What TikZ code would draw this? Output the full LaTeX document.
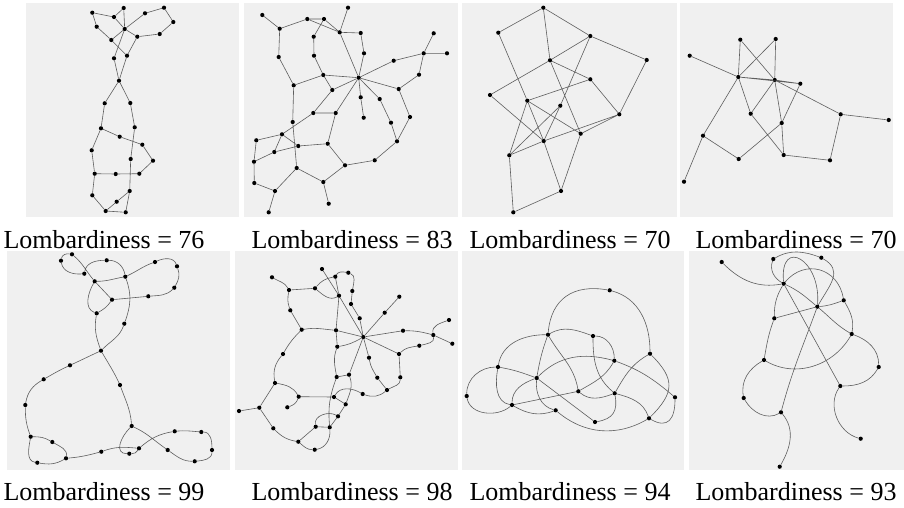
\documentclass[tikz,border=0pt]{standalone}
\usepackage{fontspec}
\setmainfont{Liberation Serif}
\definecolor{panelgray}{HTML}{F0F0F0}
\definecolor{edgegray}{HTML}{5E5E5E}
\tikzset{
  panel/.style={fill=panelgray},
  vtx/.style={circle,fill=black,inner sep=0pt,minimum size=4.2pt},
  edge/.style={draw=edgegray,line width=0.6pt},
  score/.style={font=\fontsize{26}{30}\selectfont,anchor=base}
}
\begin{document}
\begin{tikzpicture}[x=1pt,y=-1pt]
\path[use as bounding box] (0,0) rectangle (904,507);
\fill[panel] (26,3) rectangle (239,217); \fill[panel] (244,3) rectangle (458,217);
\fill[panel] (462,3) rectangle (677,217); \fill[panel] (680,3) rectangle (893,217);
\fill[panel] (7,251) rectangle (230,470); \fill[panel] (235,251) rectangle (458,470);
\fill[panel] (462,251) rectangle (684,470); \fill[panel] (689,251) rectangle (904,470);
\node[score] (s1) at (104,248) {Lombardiness = 76}; \node[score] (s2) at (352,248) {Lombardiness = 83};
\node[score] (s3) at (570,248) {Lombardiness = 70}; \node[score] (s4) at (796,248) {Lombardiness = 70};
\node[score] (s5) at (104,500) {Lombardiness = 99}; \node[score] (s6) at (352,500) {Lombardiness = 98};
\node[score] (s7) at (570,500) {Lombardiness = 94}; \node[score] (s8) at (796,500) {Lombardiness = 93};
\node[vtx] (a1) at (92.3,12.7) {}; \node[vtx] (a2) at (123.7,8) {}; \node[vtx] (a3) at (114,17) {}; \node[vtx] (a4) at (145,13.3) {};
\node[vtx] (a5) at (164,7.7) {}; \node[vtx] (a6) at (173.3,22) {}; \node[vtx] (a7) at (96.7,26.7) {}; \node[vtx] (a8) at (124.7,29) {};
\node[vtx] (a9) at (137.3,36.7) {}; \node[vtx] (a10) at (159.7,34) {}; \node[vtx] (a11) at (111.3,40) {}; \node[vtx] (a12) at (127,55.7) {};
\node[vtx] (a13) at (114,58.3) {}; \node[vtx] (a14) at (119,80.7) {}; \node[vtx] (a15) at (104.7,103.3) {}; \node[vtx] (a16) at (130.3,103) {};
\node[vtx] (a17) at (101,128.3) {}; \node[vtx] (a18) at (134.7,127.3) {}; \node[vtx] (a19) at (119.7,136.7) {}; \node[vtx] (a20) at (142.3,144.7) {};
\node[vtx] (a21) at (91.7,150.3) {}; \node[vtx] (a22) at (130.7,159) {}; \node[vtx] (a23) at (153,160.7) {}; \node[vtx] (a24) at (94.7,173.7) {};
\node[vtx] (a25) at (115.7,174) {}; \node[vtx] (a26) at (139.3,173.7) {}; \node[vtx] (a27) at (129.7,191) {}; \node[vtx] (a28) at (92.3,195.3) {};
\node[vtx] (a29) at (116.7,201.7) {}; \node[vtx] (a30) at (105.7,211) {}; \node[vtx] (a31) at (125.7,212.3) {};
\draw[edge] (a1)--(a3) (a3)--(a2) (a2)--(a8) (a3)--(a8) (a1)--(a7) (a7)--(a11) (a11)--(a8) (a11)--(a12) (a8)--(a13) (a8)--(a9)
  (a9)--(a12) (a9)--(a10) (a10)--(a6) (a6)--(a5) (a5)--(a4) (a4)--(a8) (a13)--(a14) (a12)--(a14) (a14)--(a15) (a14)--(a16)
  (a15)--(a17) (a16)--(a18) (a17)--(a19) (a19)--(a20) (a17)--(a21) (a18)--(a22) (a20)--(a23) (a23)--(a26) (a26)--(a25) (a25)--(a24)
  (a24)--(a21) (a22)--(a27) (a27)--(a31) (a27)--(a29) (a29)--(a30) (a24)--(a28) (a28)--(a30) (a30)--(a31);
\node[vtx] (b1) at (262.3,15) {}; \node[vtx] (b2) at (348,7.7) {}; \node[vtx] (b3) at (279.7,28.7) {}; \node[vtx] (b4) at (307.3,19) {};
\node[vtx] (b5) at (324,19) {}; \node[vtx] (b6) at (339.7,32.3) {}; \node[vtx] (b7) at (360.7,33) {}; \node[vtx] (b8) at (313.7,36.7) {};
\node[vtx] (b9) at (314,55.7) {}; \node[vtx] (b10) at (278.7,57) {}; \node[vtx] (b11) at (364,53.3) {}; \node[vtx] (b12) at (433.7,33.3) {};
\node[vtx] (b13) at (423.7,53.3) {}; \node[vtx] (b14) at (447,53.3) {}; \node[vtx] (b15) at (393.7,60.7) {}; \node[vtx] (b16) at (323.3,75) {};
\node[vtx] (b17) at (358.7,77.7) {}; \node[vtx] (b18) at (419,74.7) {}; \node[vtx] (b19) at (293.7,85.3) {}; \node[vtx] (b20) at (398.7,89) {};
\node[vtx] (b21) at (332.3,90) {}; \node[vtx] (b22) at (360.7,97.3) {}; \node[vtx] (b23) at (379.7,99) {}; \node[vtx] (b24) at (313.3,113) {};
\node[vtx] (b25) at (335.7,113) {}; \node[vtx] (b26) at (363.7,117.7) {}; \node[vtx] (b27) at (410,117) {}; \node[vtx] (b28) at (292.7,122) {};
\node[vtx] (b29) at (391,122.7) {}; \node[vtx] (b30) at (282,134.3) {}; \node[vtx] (b31) at (256.3,140.3) {}; \node[vtx] (b32) at (327.7,143.7) {};
\node[vtx] (b33) at (298.3,146) {}; \node[vtx] (b34) at (397,141.3) {}; \node[vtx] (b35) at (274.3,152) {}; \node[vtx] (b36) at (254,161.7) {};
\node[vtx] (b37) at (374.7,160.3) {}; \node[vtx] (b38) at (345,165.3) {}; \node[vtx] (b39) at (296.7,168) {}; \node[vtx] (b40) at (254.3,183) {};
\node[vtx] (b41) at (323.3,182) {}; \node[vtx] (b42) at (275,191) {}; \node[vtx] (b43) at (328.7,203.7) {}; \node[vtx] (b44) at (268.7,212.3) {};
\draw[edge] (b1)--(b3) (b3)--(b4) (b4)--(b5) (b4)--(b6) (b5)--(b6) (b5)--(b8) (b2)--(b6) (b6)--(b7) (b7)--(b11) (b11)--(b17)
  (b6)--(b17) (b8)--(b9) (b9)--(b16) (b3)--(b10) (b10)--(b19) (b19)--(b16) (b16)--(b17) (b16)--(b21) (b21)--(b17) (b21)--(b24)
  (b24)--(b30) (b19)--(b28) (b28)--(b39) (b30)--(b33) (b33)--(b32) (b32)--(b25) (b25)--(b17) (b24)--(b25) (b31)--(b30) (b30)--(b35)
  (b36)--(b35) (b35)--(b33) (b31)--(b36) (b36)--(b40) (b40)--(b42) (b42)--(b39) (b42)--(b44) (b39)--(b41) (b41)--(b43) (b41)--(b38)
  (b38)--(b37) (b37)--(b34) (b34)--(b27) (b27)--(b20) (b20)--(b17) (b20)--(b18) (b18)--(b13) (b13)--(b12) (b13)--(b14) (b13)--(b15)
  (b15)--(b17) (b17)--(b22) (b22)--(b26) (b17)--(b23) (b23)--(b29) (b29)--(b34) (b32)--(b38);
\node[vtx] (c1) at (543.3,7.7) {}; \node[vtx] (c2) at (498.3,32.7) {}; \node[vtx] (c3) at (590.3,36) {}; \node[vtx] (c4) at (646.7,60) {};
\node[vtx] (c5) at (550,60.3) {}; \node[vtx] (c6) at (590.3,79.3) {}; \node[vtx] (c7) at (490,95) {}; \node[vtx] (c8) at (527.3,100.7) {};
\node[vtx] (c9) at (560.3,105.7) {}; \node[vtx] (c10) at (619.3,114.3) {}; \node[vtx] (c11) at (580.7,133.7) {}; \node[vtx] (c12) at (543.7,141) {};
\node[vtx] (c13) at (509.3,155.3) {}; \node[vtx] (c14) at (561,191) {}; \node[vtx] (c15) at (513.3,212.3) {};
\draw[edge] (c2)--(c1) (c1)--(c3) (c1)--(c5) (c3)--(c4) (c4)--(c10) (c7)--(c5) (c5)--(c3) (c5)--(c6) (c6)--(c10) (c5)--(c11)
  (c8)--(c6) (c8)--(c11) (c2)--(c8) (c8)--(c12) (c8)--(c13) (c7)--(c12) (c3)--(c9) (c9)--(c13) (c9)--(c12) (c13)--(c12)
  (c12)--(c10) (c11)--(c10) (c12)--(c14) (c11)--(c14) (c13)--(c15) (c15)--(c14);
\node[vtx] (d1) at (689.7,55.7) {}; \node[vtx] (d2) at (740.3,39.7) {}; \node[vtx] (d3) at (775.7,39) {}; \node[vtx] (d4) at (738.3,77) {};
\node[vtx] (d5) at (774.7,80) {}; \node[vtx] (d6) at (800.3,83.7) {}; \node[vtx] (d7) at (750.7,113.7) {}; \node[vtx] (d8) at (840.7,114.3) {};
\node[vtx] (d9) at (888.7,120) {}; \node[vtx] (d10) at (781.7,123) {}; \node[vtx] (d11) at (703,135.7) {}; \node[vtx] (d12) at (738.7,159) {};
\node[vtx] (d13) at (783.7,155) {}; \node[vtx] (d14) at (830,160.3) {}; \node[vtx] (d15) at (684,181.7) {};
\draw[edge] (d1)--(d4) (d2)--(d4) (d2)--(d5) (d3)--(d4) (d3)--(d5) (d4)--(d6) (d4)--(d5) (d5)--(d6) (d5)--(d8) (d8)--(d9)
  (d8)--(d14) (d14)--(d13) (d4)--(d7) (d7)--(d13) (d5)--(d7) (d5)--(d10) (d6)--(d10) (d10)--(d13) (d10)--(d12) (d12)--(d11)
  (d11)--(d4) (d11)--(d15);
\node[vtx] (e1) at (72,254.3) {}; \node[vtx] (e2) at (61,260.7) {}; \node[vtx] (e3) at (106.7,260.3) {}; \node[vtx] (e4) at (155,262) {};
\node[vtx] (e5) at (177,266.3) {}; \node[vtx] (e6) at (84.3,273.7) {}; \node[vtx] (e7) at (125.3,276.7) {}; \node[vtx] (e8) at (94.7,281.3) {};
\node[vtx] (e9) at (174.3,287.7) {}; \node[vtx] (e10) at (148.3,296.3) {}; \node[vtx] (e11) at (112,299.7) {}; \node[vtx] (e12) at (96.7,313.3) {};
\node[vtx] (e13) at (124.3,323.7) {}; \node[vtx] (e14) at (101,350.7) {}; \node[vtx] (e15) at (70,365.3) {}; \node[vtx] (e16) at (43.7,379.3) {};
\node[vtx] (e17) at (120,385) {}; \node[vtx] (e18) at (25.3,405) {}; \node[vtx] (e19) at (131.7,426) {}; \node[vtx] (e20) at (30.7,436.7) {};
\node[vtx] (e21) at (174.7,431.3) {}; \node[vtx] (e22) at (201.3,432) {}; \node[vtx] (e23) at (52.3,442) {}; \node[vtx] (e24) at (212,450) {};
\node[vtx] (e25) at (167.7,450) {}; \node[vtx] (e26) at (139,448.3) {}; \node[vtx] (e27) at (101.3,451.7) {}; \node[vtx] (e28) at (129.3,453.7) {};
\node[vtx] (e29) at (66,458.3) {}; \node[vtx] (e30) at (194.7,461.3) {}; \node[vtx] (e31) at (37.3,462.7) {};
\draw[edge] (e2) to[out=80,in=170] (e1) (e2) to[out=-80,in=185] (e6) (e1) to[out=-40,in=130] (e8) (e6) to[out=80,in=180] (e3)
  (e3) to[out=0,in=100] (e7) (e7) to[out=-70,in=70] (e13) (e13) to[out=-110,in=45] (e14) (e8) to[out=0,in=190] (e7)
  (e7) to[out=25,in=200] (e4) (e4) to[out=25,in=110] (e5) (e5) to[out=-70,in=60] (e9) (e9) to[out=225,in=5] (e10)
  (e10)--(e11) (e8)--(e11) (e11) to[out=235,in=30] (e12) (e8) to[out=240,in=160] (e12) (e12) to[out=-100,in=110] (e14)
  (e14) to[out=205,in=25] (e15) (e15) to[out=205,in=30] (e16) (e16) to[out=210,in=80] (e18) (e18) to[out=-90,in=110] (e20)
  (e20) to[out=0,in=150] (e23) (e20) to[out=-100,in=170] (e31) (e31) to[out=-10,in=210] (e29) (e23) to[out=-30,in=80] (e29)
  (e29) to[out=5,in=195] (e27) (e27) to[out=20,in=175] (e26) (e14) to[out=-60,in=115] (e17) (e17) to[out=-70,in=95] (e19)
  (e19) to[out=225,in=180,looseness=1.3] (e28) (e28) to[out=0,in=240] (e26) (e19) to[out=-25,in=145] (e25)
  (e25) to[out=-35,in=180] (e30) (e30) to[out=5,in=-90] (e24) (e24) to[out=90,in=0] (e22) (e22) to[out=175,in=5] (e21)
  (e21) to[out=190,in=40] (e26);
\node[vtx] (f1) at (322,269) {}; \node[vtx] (f2) at (348.3,272.7) {}; \node[vtx] (f3) at (272,277.3) {}; \node[vtx] (f4) at (335.3,276.7) {};
\node[vtx] (f5) at (289,290) {}; \node[vtx] (f6) at (315,288.3) {}; \node[vtx] (f7) at (352.3,291) {}; \node[vtx] (f8) at (339,295.7) {};
\node[vtx] (f9) at (399.3,296.7) {}; \node[vtx] (f10) at (351,304) {}; \node[vtx] (f11) at (290.3,310.3) {}; \node[vtx] (f12) at (384.7,312.7) {};
\node[vtx] (f13) at (359.7,318.3) {}; \node[vtx] (f14) at (449,320) {}; \node[vtx] (f15) at (301.7,329.7) {}; \node[vtx] (f16) at (336,330.3) {};
\node[vtx] (f17) at (403,330.7) {}; \node[vtx] (f18) at (433.3,335) {}; \node[vtx] (f19) at (363.3,337) {}; \node[vtx] (f20) at (452.3,343.7) {};
\node[vtx] (f21) at (337.3,346.7) {}; \node[vtx] (f22) at (419.3,345.7) {}; \node[vtx] (f23) at (399,354) {}; \node[vtx] (f24) at (283,354) {};
\node[vtx] (f25) at (369,357.7) {}; \node[vtx] (f26) at (336.7,377) {}; \node[vtx] (f27) at (349,374.7) {}; \node[vtx] (f28) at (377.3,377.7) {};
\node[vtx] (f29) at (400.3,377.3) {}; \node[vtx] (f30) at (275,383) {}; \node[vtx] (f31) at (387,390) {}; \node[vtx] (f32) at (362.7,394) {};
\node[vtx] (f33) at (298.7,396.7) {}; \node[vtx] (f34) at (334,397) {}; \node[vtx] (f35) at (345.7,404.3) {}; \node[vtx] (f36) at (287.3,407.3) {};
\node[vtx] (f37) at (259.3,407.7) {}; \node[vtx] (f38) at (239,411) {}; \node[vtx] (f39) at (338,416.3) {}; \node[vtx] (f40) at (315.7,426.7) {};
\node[vtx] (f41) at (329.7,427.3) {}; \node[vtx] (f42) at (273.3,428.3) {}; \node[vtx] (f43) at (298.3,441.7) {}; \node[vtx] (f44) at (314.7,449.7) {};
\draw[edge] (f3) to[out=-30,in=120] (f5) (f5)--(f6) (f5) to[out=-100,in=110] (f11) (f11)--(f15) (f15) to[out=10,in=175] (f16)
  (f15) to[out=225,in=60] (f24) (f24) to[out=230,in=100] (f30) (f30)--(f37) (f37)--(f38) (f37)--(f42)
  (f42) to[out=-45,in=170] (f43) (f43) to[out=-40,in=180] (f44) (f44) to[out=10,in=-85] (f41) (f43)--(f40) (f40)--(f41)
  (f40) to[out=100,in=150] (f39) (f41)--(f39) (f39)--(f35) (f35)--(f34) (f33)--(f34) (f30) to[out=-10,in=120] (f33)
  (f33) to[out=250,in=20] (f36) (f34) to[out=60,in=150] (f32) (f32) to[out=-20,in=220] (f31) (f31) to[out=30,in=-90] (f29)
  (f29)--(f23) (f23) to[out=45,in=190] (f22) (f22) to[out=15,in=-80] (f18) (f18) to[out=100,in=200] (f14) (f18)--(f20)
  (f18) to[out=165,in=0] (f17) (f17)--(f19) (f19)--(f23) (f19)--(f12) (f12)--(f9) (f19)--(f13) (f13)--(f10) (f10)--(f7)
  (f7) to[out=80,in=-20] (f2) (f4) to[out=60,in=170] (f2) (f6) to[out=50,in=190] (f4) (f6) to[out=-40,in=210] (f8)
  (f4)--(f8) (f1)--(f8) (f8)--(f19) (f8)--(f16) (f16)--(f19) (f16)--(f21) (f21) to[out=10,in=210] (f19)
  (f21) to[out=250,in=100] (f26) (f19)--(f27) (f19)--(f25) (f25) to[out=-80,in=120] (f28) (f28)--(f31) (f26)--(f27)
  (f27) to[out=-70,in=70] (f35) (f26) to[out=250,in=95] (f41);
\node[vtx] (g1) at (609.7,290.3) {}; \node[vtx] (g2) at (548,334.7) {}; \node[vtx] (g3) at (593,336) {}; \node[vtx] (g4) at (650,353.7) {};
\node[vtx] (g5) at (614.3,360.7) {}; \node[vtx] (g6) at (498,367) {}; \node[vtx] (g7) at (536.7,378) {}; \node[vtx] (g8) at (578.3,391.3) {};
\node[vtx] (g9) at (614.7,393.3) {}; \node[vtx] (g10) at (466.7,396) {}; \node[vtx] (g11) at (675,397.3) {}; \node[vtx] (g12) at (512,405) {};
\node[vtx] (g13) at (555.7,410.3) {}; \node[vtx] (g14) at (649,418.3) {}; \node[vtx] (g15) at (595,422) {};
\draw[edge] (g2) to[out=85,in=170,looseness=1.2] (g1) (g1) to[out=-15,in=90] (g4) (g6) to[out=80,in=180] (g2)
  (g2) to[out=30,in=160] (g3) (g3) to[out=0,in=90] (g5) (g3) to[out=-90,in=140] (g9) (g2) to[out=-110,in=80] (g7)
  (g2) to[out=-60,in=100] (g8) (g6) to[out=-10,in=160] (g7) (g6) to[out=-100,in=170] (g12) (g10) to[out=90,in=180] (g6)
  (g10) to[out=-80,in=220] (g12) (g12)--(g8) (g12) to[out=90,in=200] (g7) (g12) to[out=-30,in=200] (g13)
  (g7) to[out=45,in=165] (g5) (g5) to[out=-20,in=140] (g11) (g7)--(g15) (g7) to[out=-95,in=165] (g13)
  (g13) to[out=-40,in=210] (g14) (g8) to[out=30,in=240] (g5) (g8) to[out=-40,in=200] (g9) (g9) to[out=60,in=210] (g4)
  (g4) to[out=-45,in=45,looseness=1.4] (g14) (g9) to[out=-15,in=110] (g14) (g14) to[out=-30,in=-90,looseness=1.6] (g11)
  (g9) to[out=-80,in=10,looseness=1.3] (g15);
\node[vtx] (h1) at (721.7,262) {}; \node[vtx] (h2) at (773.3,259) {}; \node[vtx] (h3) at (821.3,257.7) {}; \node[vtx] (h4) at (783.7,283.7) {};
\node[vtx] (h5) at (843.7,300.3) {}; \node[vtx] (h6) at (817.3,306.7) {}; \node[vtx] (h7) at (774.3,318.3) {}; \node[vtx] (h8) at (851.7,334) {};
\node[vtx] (h9) at (764,360) {}; \node[vtx] (h10) at (878.7,367) {}; \node[vtx] (h11) at (840.3,386) {}; \node[vtx] (h12) at (743.7,398) {};
\node[vtx] (h13) at (781,412.3) {}; \node[vtx] (h14) at (860.7,438.7) {}; \node[vtx] (h15) at (779.7,466.7) {};
\draw[edge] (h1) to[out=-45,in=190] (h4) (h2) to[out=250,in=150] (h4) (h2) to[out=30,in=160] (h3)
  (h3) to[out=-30,in=60,looseness=1.3] (h6) (h4) to[out=95,in=85,looseness=2.8] (h6) (h4) to[out=50,in=100,looseness=1.3] (h5)
  (h4) to[out=240,in=90] (h7) (h4)--(h11) (h4) to[out=-25,in=140] (h6) (h6) to[out=-40,in=150] (h8) (h7)--(h6)
  (h6) to[out=5,in=200] (h5) (h5) to[out=-60,in=80] (h8) (h6) to[out=-110,in=75] (h13) (h7) to[out=250,in=80] (h9)
  (h9) to[out=-30,in=240] (h8) (h9) to[out=210,in=100] (h12) (h12) to[out=-60,in=210] (h13) (h13) to[out=-50,in=60] (h15)
  (h8) to[out=-20,in=90] (h10) (h10) to[out=240,in=0] (h11) (h11) to[out=235,in=165] (h14);
\end{tikzpicture}
\end{document}
